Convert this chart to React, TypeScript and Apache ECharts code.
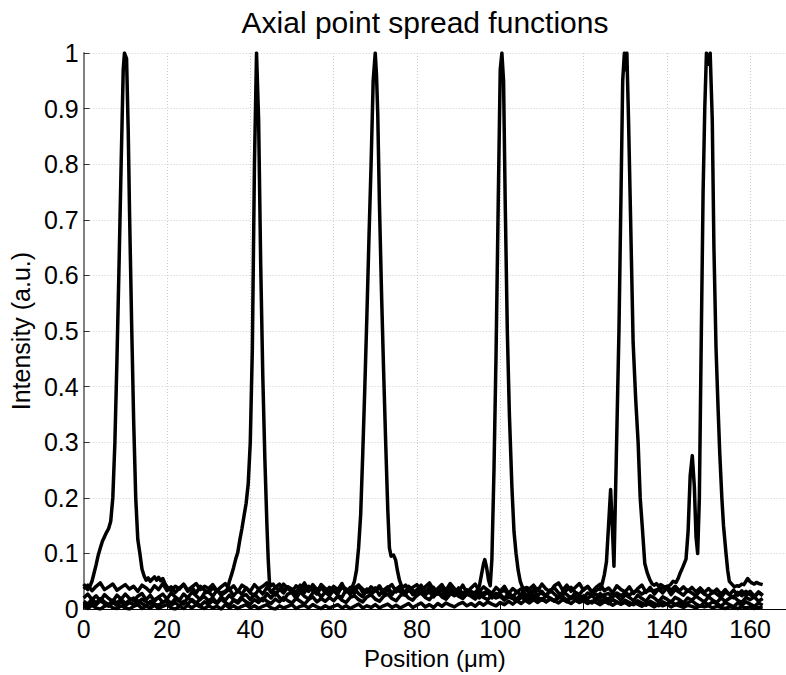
import React, { useEffect, useRef } from "react";
import * as echarts from "echarts";

const N = null;
const FONT = "'Liberation Sans', Arial, Helvetica, sans-serif";

const titleText = "Axial point spread functions";
const xName = "Position (μm)";
const yName = "Intensity (a.u.)";

// Baseline traces sampled every 1 µm from 0 to 163 (null where the peak arrays take over)
const s1Base: (number | null)[] = [
  N, N, N, N, N, N, N, N, N, N,
  N, N, N, N, N, N, N, N, N, N,
  N, .033, .041, .036, .045, .034, .040, .046, .035, .041,
  .037, .044, .033, .040, .046, .035, .042, .031, .043, .038,
  .032, .044, .036, .041, .047, .030, .039, .045, .034, .040,
  .036, .029, .043, .038, .032, .044, .035, .040, .030, .039,
  .034, .028, .041, .036, .029, .038, .043, .030, .035, .027,
  .033, .039, .028, .035, .026, .037, .031, .025, .034, .029,
  .024, .033, .027, .031, .022, .030, .026, .019, .029, .024,
  .028, .020, .027, .023, .018, .026, .021, .017, .025, .020,
  .023, .016, .022, .019, .014, .021, .018, .013, .020, .016,
  .019, .013, .018, .015, .011, .017, .014, .010, .016, .012,
  .015, .010, .014, .012, .008, .013, .011, .007, .012, .009,
  .012, .007, .011, .009, .005, .010, .008, .004, .009, .006,
  .009, .004, .008, .006, .003, .007, .005, .002, .006, .004,
  .006, .002, .005, .003, .001, .004, .003, .001, .004, .002,
  .004, .001, .003, .002,
];
const s1Peak: [number, number][] = [
  [0, .045], [0.5, .040], [1, .035], [1.5, .041], [2, .05], [2.5, .065], [3, .08], [3.5, .097],
  [4, .11], [4.5, .122], [5, .13], [5.5, .138], [6, .145], [6.5, .158], [7, .2], [7.5, .3],
  [8, .45], [8.5, .62], [9, .8], [9.5, .97], [9.8, 1], [10.3, .99], [10.7, .86], [11, .72],
  [11.5, .52], [12, .34], [12.5, .2], [13, .125], [13.5, .1], [14, .072], [14.5, .06], [15, .052],
  [15.5, .056], [16, .05], [16.5, .054], [17, .058], [17.5, .052], [18, .057], [18.5, .051],
  [19, .055], [19.5, .046], [20, .04],
];

const s2Base: (number | null)[] = [
  .036, .043, .033, .041, .047, .035, .040, .045, .034, .039,
  .044, .036, .041, .032, .043, .038, .031, .042, .035, .046,
  .033, .040, .030, .038, .044, .032, .039, .029, .041, .034,
  .030, .038, .033, .029, N, N, N, N, N, N,
  N, N, N, N, N, N, N, .034, .045, .037,
  .031, .042, .036, .047, .033, .040, .030, .044, .037, .032,
  .041, .035, .046, .031, .039, .028, .043, .036, .030, .040,
  .033, .042, .029, .038, .044, .031, .037, .027, .041, .034,
  .028, .037, .025, .034, .039, .027, .035, .024, .033, .029,
  .035, .023, .031, .027, .021, .033, .025, .030, .020, .028,
  .026, .019, .029, .023, .018, .027, .022, .017, .025, .021,
  .016, .024, .020, .015, .023, .019, .013, .022, .018, .012,
  .021, .015, .011, .019, .014, .018, .010, .017, .013, .009,
  .016, .012, .008, .015, .011, .007, .014, .010, .006, .013,
  .009, .014, .008, .012, .006, .011, .015, .009, .005, .012,
  .008, .013, .010, .005, .012, .008, .004, .011, .007, .013,
  .009, .005, .011, .007,
];
const s2Peak: [number, number][] = [
  [34, .032], [34.5, .036], [35, .05], [35.5, .062], [36, .075], [36.5, .09], [37, .102],
  [37.5, .125], [38, .145], [38.5, .168], [39, .19], [39.5, .225], [40, .3], [40.5, .47],
  [41, .8], [41.5, 1], [42, .88], [42.5, .62], [43, .42], [43.5, .27], [44, .15], [44.3, .09],
  [44.6, .048], [45, .042], [45.5, .045], [46, .039],
];

const s3Base: (number | null)[] = [
  .020, .027, .017, .024, .015, .026, .019, .014, .025, .018,
  .027, .019, .015, .023, .028, .017, .025, .014, .022, .027,
  .018, .029, .022, .016, .027, .020, .031, .024, .017, .029,
  .031, .023, .034, .025, .030, .036, .024, .033, .027, .038,
  .029, .024, .035, .027, .039, .031, .025, .036, .029, .040,
  .032, .026, .038, .030, .041, .033, .027, .039, .031, .026,
  .037, .029, .040, .033, N, N, N, N, N, N,
  N, N, N, N, N, N, N, N, N, .039,
  .044, .033, .040, .047, .035, .030, .042, .034, .046, .037,
  .031, .043, .029, .038, .045, .032, .040, .034, .028, .039,
  .032, .041, .028, .037, .031, .025, .036, .029, .035, .024,
  .032, .023, .034, .027, .021, .031, .026, .019, .030, .024,
  .020, .029, .024, .018, .028, .022, .017, .027, .023, .016,
  .026, .021, .015, .025, .019, .014, .024, .020, .013, .022,
  .018, .012, .021, .017, .011, .020, .016, .023, .018, .013,
  .022, .016, .012, .020, .014, .019, .023, .016, .012, .021,
  .017, .022, .014, .019,
];
const s3Peak: [number, number][] = [
  [64, .035], [64.5, .04], [65, .05], [65.5, .07], [66, .11], [66.5, .17], [67, .28], [67.5, .4],
  [68, .53], [68.5, .67], [69, .8], [69.5, .95], [70, 1], [70.3, .96], [70.6, .89], [71, .73],
  [71.5, .57], [72, .43], [72.5, .3], [73, .18], [73.4, .11], [73.8, .095], [74.4, .097],
  [74.9, .088], [75.3, .07], [75.8, .052], [76.3, .042], [76.8, .04], [77.3, .043], [77.8, .038],
  [78, .036],
];

const s4Base: (number | null)[] = [
  .014, .009, .018, .011, .019, .013, .008, .016, .011, .018,
  .010, .016, .020, .011, .018, .013, .009, .017, .021, .012,
  .017, .010, .019, .014, .009, .021, .014, .010, .019, .022,
  .015, .020, .011, .022, .016, .025, .017, .013, .023, .026,
  .017, .027, .019, .015, .028, .020, .030, .021, .016, .027,
  .030, .019, .031, .023, .018, .029, .033, .021, .031, .024,
  .034, .025, .021, .035, .026, .037, .028, .022, .036, .029,
  .038, .025, .034, .040, .028, .035, .042, .029, .038, .026,
  .035, .043, .030, .039, .027, .037, .044, .031, .040, .028,
  .038, .027, .035, .030, N, N, N, N, N, N,
  N, N, N, N, N, N, N, N, .043, .033,
  .045, .036, .031, .042, .047, .034, .043, .032, .039, .046,
  .034, .041, .031, .039, .045, .033, .038, .029, .042, .035,
  .031, .040, .028, .037, .043, .030, .039, .027, .036, .029,
  .038, .026, .035, .030, .025, .034, .029, .024, .033, .027,
  .023, .032, .027, .021, .031, .026, .020, .030, .024, .032,
  .026, .021, .030, .024,
];
const s4Peak: [number, number][] = [
  [94, .03], [94.5, .034], [95, .042], [95.5, .062], [96, .082], [96.3, .089], [96.7, .076],
  [97.2, .052], [97.6, .042], [98, .09], [98.5, .25], [99, .46], [99.5, .72], [100, .97],
  [100.4, 1], [100.8, .95], [101.2, .73], [101.7, .5], [102.2, .35], [102.8, .22], [103.3, .14],
  [103.8, .1], [104.3, .07], [104.8, .05], [105.3, .04], [105.8, .037], [106.4, .039], [107, .036],
];

const s5Base: (number | null)[] = [
  .011, .006, .013, .008, .015, .010, .005, .012, .007, .014,
  .006, .012, .008, .015, .010, .005, .014, .009, .007, .012,
  .015, .007, .012, .005, .014, .009, .017, .011, .006, .013,
  .009, .015, .010, .018, .012, .007, .016, .011, .019, .013,
  .009, .017, .012, .020, .014, .010, .018, .013, .021, .015,
  .011, .019, .014, .009, .017, .022, .013, .019, .014, .021,
  .015, .023, .016, .012, .021, .024, .017, .013, .022, .026,
  .018, .014, .023, .027, .019, .015, .024, .028, .020, .016,
  .025, .029, .021, .017, .026, .030, .022, .018, .027, .031,
  .023, .019, .028, .032, .024, .020, .029, .033, .025, .021,
  .030, .034, .026, .022, .031, .036, .027, .023, .032, .037,
  .028, .024, .034, .038, .029, .025, .035, .039, .030, .026,
  .036, .040, .031, N, N, N, N, N, N, N,
  N, N, N, N, N, N, N, N, N, N,
  N, .034, .041, .033, .040, .032, .039, .031, .038, .030,
  .037, .029, .036, .027, .035, .026, .034, .025, .033, .024,
  .032, .023, .031, .025,
];
const s5Peak: [number, number][] = [
  [123, .033], [123.5, .036], [124, .035], [124.5, .046], [125, .062], [125.5, .085], [126, .15],
  [126.5, .215], [126.9, .15], [127.3, .077], [127.8, .25], [128.5, .5], [129, .75], [129.4, .95],
  [129.8, 1], [130.1, .97], [130.4, 1], [130.8, .88], [131.3, .7], [131.9, .48], [132.5, .38],
  [133.1, .3], [133.6, .2], [134.1, .148], [134.7, .082], [135.3, .065], [135.9, .053],
  [136.5, .045], [137, .043], [137.5, .046], [138, .041], [138.5, .044], [139, .042],
  [139.5, .039], [140, .041],
];

const s6Base: (number | null)[] = [
  .005, .001, .007, .002, .000, .005, .008, .002, .001, .006,
  .002, .000, .005, .008, .001, .005, .002, .007, .001, .005,
  .008, .002, .000, .005, .001, .007, .002, .008, .004, .001,
  .006, .002, .005, .000, .008, .002, .006, .001, .005, .008,
  .002, .006, .001, .005, .008, .002, .000, .006, .002, .005,
  .008, .001, .005, .007, .002, .008, .004, .001, .006, .002,
  .005, .008, .002, .006, .001, .005, .009, .002, .006, .003,
  .008, .002, .006, .009, .003, .007, .002, .006, .010, .003,
  .007, .011, .004, .008, .003, .010, .005, .011, .007, .004,
  .009, .012, .006, .010, .005, .012, .007, .013, .009, .006,
  .012, .008, .014, .009, .015, .010, .016, .011, .017, .012,
  .018, .013, .019, .014, .020, .022, .016, .021, .023, .017,
  .024, .019, .025, .027, .021, .026, .028, .022, .029, .024,
  .030, .025, .031, .033, .027, .032, .034, N, N, N,
  N, N, N, N, N, N, N, N, N, N,
  N, N, N, N, N, N, N, N, N, N,
  N, N, N, N,
];
const s6Peak: [number, number][] = [
  [137, .033], [138, .036], [139, .038], [139.9, .04], [140.5, .042], [141, .045], [141.5, .05],
  [142.2, .048], [142.7, .055], [143.2, .065], [143.8, .075], [144.6, .09], [145.1, .14],
  [145.6, .24], [146.1, .276], [146.6, .22], [147, .13], [147.4, .1], [147.8, .2], [148.2, .45],
  [148.7, .75], [149.1, .9], [149.5, 1], [150, .98], [150.4, 1], [150.9, .88], [151.3, .65],
  [151.8, .47], [152.3, .36], [152.7, .28], [153.2, .2], [153.6, .15], [154.2, .1], [154.6, .07],
  [155, .05], [155.6, .045], [156.2, .04], [156.8, .042], [157.3, .041], [158, .045],
  [158.5, .044], [159, .05], [159.4, .055], [159.9, .05], [160.4, .047], [161, .045],
  [161.5, .048], [162, .046], [162.5, .045], [163, .044],
];

const traces: [(number | null)[], [number, number][]][] = [
  [s1Base, s1Peak],
  [s2Base, s2Peak],
  [s3Base, s3Peak],
  [s4Base, s4Peak],
  [s5Base, s5Peak],
  [s6Base, s6Peak],
];

function mergeTrace(base: (number | null)[], peak: [number, number][]): [number, number][] {
  const lo = peak[0][0];
  const hi = peak[peak.length - 1][0];
  const pts: [number, number][] = [];
  base.forEach((v, i) => {
    if (v !== null && (i < lo || i > hi)) pts.push([i, v]);
  });
  peak.forEach((p) => pts.push([p[0], p[1]]));
  pts.sort((a, b) => a[0] - b[0]);
  return pts;
}

export default function App() {
  const ref = useRef<HTMLDivElement>(null);
  useEffect(() => {
    if (!ref.current) return;
    const chart = echarts.init(ref.current, undefined, { renderer: "svg" });
    const gridLine = { show: true, lineStyle: { color: "#cccccc", type: [1, 2], width: 1 } };
    chart.setOption({
      animation: false,
      backgroundColor: "#ffffff",
      textStyle: { fontFamily: FONT },
      grid: { left: 82, top: 53, width: 704, height: 560, containLabel: false },
      graphic: [
        {
          type: "text",
          x: 425,
          y: 22,
          style: {
            text: titleText,
            fontSize: 30,
            fontFamily: FONT,
            fill: "#000",
            align: "center",
            verticalAlign: "middle",
          },
        },
      ],
      xAxis: {
        type: "value",
        min: 0,
        max: 168.6,
        interval: 20,
        name: xName,
        nameLocation: "middle",
        nameGap: 28,
        nameTextStyle: { fontSize: 24, fontFamily: FONT, color: "#000" },
        axisLine: { show: true, onZero: false, lineStyle: { color: "#000", width: 1 } },
        axisTick: { show: true, inside: true, length: 6, lineStyle: { color: "#000" } },
        axisLabel: {
          color: "#000",
          fontSize: 25,
          fontFamily: FONT,
          margin: 7,
          showMaxLabel: false,
          formatter: (v: number) => (Math.abs(v % 20) < 1e-6 ? String(v) : ""),
        },
        splitLine: gridLine,
      },
      yAxis: {
        type: "value",
        min: 0,
        max: 1,
        interval: 0.1,
        name: yName,
        nameLocation: "middle",
        nameRotate: 90,
        nameGap: 48,
        nameTextStyle: { fontSize: 25, fontFamily: FONT, color: "#000" },
        axisLine: { show: true, lineStyle: { color: "#808080", width: 2 } },
        axisTick: { show: true, inside: true, length: 6, lineStyle: { color: "#333" } },
        axisLabel: { color: "#000", fontSize: 25, fontFamily: FONT, margin: 5 },
        splitLine: gridLine,
      },
      series: traces.map(([base, peak], k) => ({
        name: "PSF " + (k + 1),
        type: "line",
        data: mergeTrace(base, peak),
        showSymbol: false,
        symbol: "none",
        lineStyle: { color: "#000", width: 3.5, join: "round" },
        itemStyle: { color: "#000" },
      })),
    });
    return () => chart.dispose();
  }, []);
  return (
    <div
      ref={ref}
      style={{ position: "fixed", left: 0, top: 0, width: 786, height: 675, background: "#fff" }}
    />
  );
}
